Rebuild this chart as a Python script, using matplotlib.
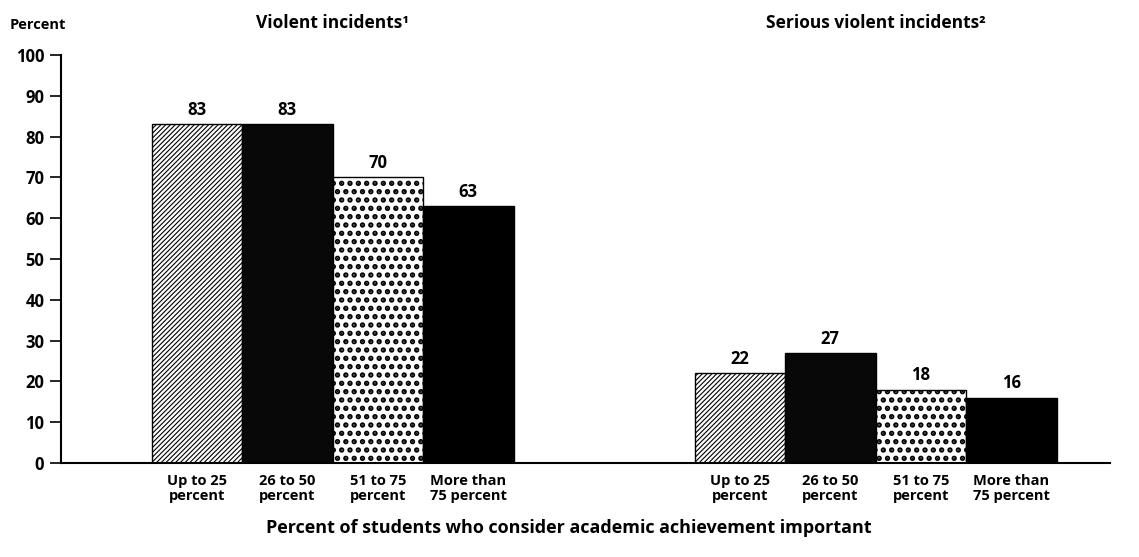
import matplotlib
matplotlib.use("Agg")
import matplotlib.pyplot as plt

plt.rcParams['font.family'] = ['Open Sans', 'DejaVu Sans']

categories = ["Up to 25\npercent", "26 to 50\npercent", "51 to 75\npercent", "More than\n75 percent"]
violent = [83, 83, 70, 63]
serious = [22, 27, 18, 16]
panel_titles = ["Violent incidents\u00b9", "Serious violent incidents\u00b2"]
y_ticks = [0, 10, 20, 30, 40, 50, 60, 70, 80, 90, 100]

fills = ["white", "#080808", "white", "black"]
hatches = ["///////", None, "..", None]
hatch_widths = [0.8, 0.8, 2.6, 0.8]

fig = plt.figure(figsize=(11.39, 5.57), dpi=100)
ax = fig.add_axes([61 / 1139, 1 - 463 / 557, (1110 - 61) / 1139, (463 - 55) / 557])

group_starts = [1.0, 7.0]
for start, values, title in zip(group_starts, [violent, serious], panel_titles):
    xs = [start + 0.5 + i for i in range(len(values))]
    for x, v, fc, h, hw, lab in zip(xs, values, fills, hatches, hatch_widths, categories):
        with plt.rc_context({'hatch.linewidth': hw}):
            ax.bar(x, v, width=1.0, color=fc, edgecolor="black", hatch=h,
                   linewidth=1.0, zorder=2)
        ax.text(x, v + 1.3, f"{v}", ha="center", va="bottom", fontsize=12,
                fontweight="bold", zorder=3)
        ax.text(x, -2.6, lab, ha="center", va="top", fontsize=10.5,
                fontweight="bold", linespacing=1.15)
    ax.text(sum(xs) / len(xs), 107.8, title, ha="center", va="center",
            fontsize=12.5, fontweight="bold")

ax.set_xlim(0, (1110 - 61) / 90.5)
ax.set_ylim(0, 100)
ax.set_yticks(y_ticks)
ax.set_yticklabels([str(t) for t in y_ticks], fontsize=12, fontweight="bold")
ax.tick_params(axis="y", direction="out", length=8, width=1.2, pad=4)
ax.set_xticks([])
for side in ["top", "right"]:
    ax.spines[side].set_visible(False)
ax.spines["left"].set_linewidth(1.5)
ax.spines["bottom"].set_linewidth(1.5)

fig.text(10 / 1139, 1 - 25 / 557, "Percent", ha="left", va="center",
         fontsize=10.5, fontweight="bold")
fig.text(569 / 1139, 1 - 528 / 557,
         "Percent of students who consider academic achievement important",
         ha="center", va="center", fontsize=13, fontweight="bold")

fig.savefig("out.png", dpi=100, facecolor="white")
